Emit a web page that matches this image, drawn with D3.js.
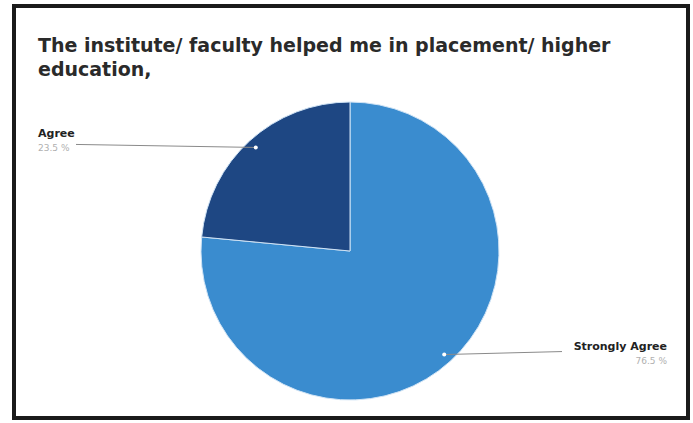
<!DOCTYPE html>
<html>
<head>
<meta charset="utf-8">
<script src="https://cdn.jsdelivr.net/npm/d3@7"></script>
<style>
  body { margin: 0; background: #fff; }
  text { font-family: "DejaVu Sans", Arial, sans-serif; }
</style>
</head>
<body>
<script>
var width = 693,
    height = 423,
    radius = 149;

// data
var categories = ["Strongly Agree", "Agree"];
var values = [76.5, 23.5];
var colors = ["#3a8ccf", "#1e4783"];
var titleLines = ["The institute/ faculty helped me in placement/ higher", "education,"];

var svg = d3.select("body").append("svg")
    .attr("width", width)
    .attr("height", height);

//screen frame
svg.append("rect")
    .attr("x", 14).attr("y", 6)
    .attr("width", 674).attr("height", 412)
    .attr("fill", "#fff")
    .attr("stroke", "#1a1a1a")
    .attr("stroke-width", 4);

//title
svg.append("g").selectAll("text")
    .data(titleLines)
    .enter().append("text")
    .attr("x", 38)
    .attr("y", function(d, i){ return 52 + i * 24; })
    .attr("font-size", 19)
    .attr("font-weight", "bold")
    .attr("fill", "#2a2a2a")
    .text(function(d){ return d; });

var data = categories.map(function(c, i){ return {name: c, value: values[i], color: colors[i]}; });

var pie = d3.pie().sort(null).value(function(d){ return d.value; });
var arc = d3.arc().innerRadius(0).outerRadius(radius);
var cx = 350, cy = 251;

var g = svg.append("g").attr("transform", "translate(" + cx + "," + cy + ")");
var arcs = pie(data);

g.selectAll("path")
    .data(arcs)
    .enter().append("path")
    .attr("d", arc)
    .attr("fill", function(d){ return d.data.color; })
    .attr("stroke", "#cfe3f5")
    .attr("stroke-width", 1);

//label positions (left or right side)
var labelPos = {
    "Agree": {x: 38, y: 137, anchor: "start", lineEnd: 76},
    "Strongly Agree": {x: 667, y: 350, anchor: "end", lineEnd: 562}
};

var pointArc = d3.arc().innerRadius(140).outerRadius(140);

arcs.forEach(function(d){
    var p = pointArc.centroid(d);
    var px = cx + p[0], py = cy + p[1];
    var lp = labelPos[d.data.name];
    svg.append("line")
        .attr("x1", px).attr("y1", py)
        .attr("x2", lp.lineEnd).attr("y2", py - 3)
        .attr("stroke", "#8a8a8a")
        .attr("stroke-width", 1);
    svg.append("circle")
        .attr("cx", px).attr("cy", py).attr("r", 2)
        .attr("fill", "#fff");
    svg.append("text")
        .attr("x", lp.x).attr("y", lp.y)
        .attr("text-anchor", lp.anchor)
        .attr("font-size", 11)
        .attr("font-weight", "bold")
        .attr("fill", "#222")
        .text(d.data.name);
    svg.append("text")
        .attr("x", lp.x).attr("y", lp.y + 14)
        .attr("text-anchor", lp.anchor)
        .attr("font-size", 9)
        .attr("fill", "#b0b0b0")
        .text(d3.format(".1f")(d.data.value) + " %");
});
</script>
</body>
</html>
